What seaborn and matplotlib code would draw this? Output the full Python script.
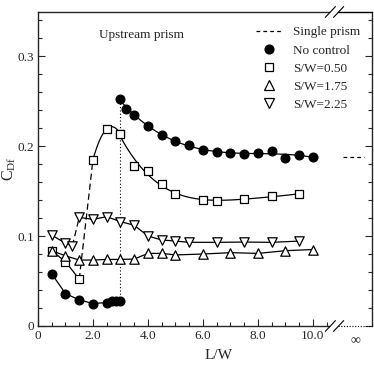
import numpy as np
import pandas as pd
import matplotlib
matplotlib.use("Agg")
import matplotlib.pyplot as plt
import seaborn as sns
from matplotlib.lines import Line2D

# ---------------- data ----------------
# No control (filled circles): two branches
nc_x_a = [0.5, 1.0, 1.5, 2.0, 2.5, 2.7, 2.85, 3.0]
nc_y_a = [0.058, 0.036, 0.029, 0.025, 0.026, 0.0275, 0.028, 0.028]
nc_x_b = [3.0, 3.2, 3.5, 4.0, 4.5, 5.0, 5.5, 6.0, 6.5, 7.0, 7.5, 8.0, 8.5, 9.0, 9.5, 10.0]
nc_y_b = [0.252, 0.2415, 0.235, 0.222, 0.2126, 0.2056, 0.201, 0.196, 0.1937, 0.192,
          0.191, 0.192, 0.195, 0.187, 0.190, 0.188]

# S/W = 0.50 (open squares): three branches
sq_x_a = [0.5, 1.0, 1.5]
sq_y_a = [0.0837, 0.0715, 0.052]
sq_x_b = [2.0, 2.5, 3.0]
sq_y_b = [0.185, 0.219, 0.2133]
sq_x_c = [3.0, 3.5, 4.0, 4.5, 5.0, 6.0, 6.5, 7.5, 8.5, 9.5]
sq_y_c = [0.2133, 0.178, 0.1726, 0.158, 0.147, 0.140, 0.139, 0.141, 0.1444, 0.1467]

# S/W = 1.75 (up triangles)
ut_x = [0.5, 1.0, 1.5, 2.0, 2.5, 3.0, 3.5, 4.0, 4.5, 5.0, 6.0, 7.0, 8.0, 9.0, 10.0]
ut_y = [0.0837, 0.078, 0.0733, 0.0733, 0.074, 0.074, 0.0744, 0.0807, 0.0807, 0.079,
        0.080, 0.0815, 0.0807, 0.0837, 0.085]

# S/W = 2.25 (down triangles): two branches
dt_x_a = [0.5, 1.0, 1.25]
dt_y_a = [0.101, 0.092, 0.089]
dt_x_b = [1.5, 2.0, 2.5, 3.0, 3.5, 4.0, 4.5, 5.0, 5.5, 6.5, 7.5, 8.5, 9.5]
dt_y_b = [0.1207, 0.1185, 0.1215, 0.116, 0.112, 0.100, 0.0956, 0.0944, 0.093, 0.093,
          0.0933, 0.093, 0.0944]

single_prism = 0.188

x_ticks = [0, 2, 4, 6, 8, 10]
x_ticklabels = ["0", "2.0", "4.0", "6.0", "8.0", "10.0"]
y_ticks = [0, 0.1, 0.2, 0.3]
y_ticklabels = ["0", "0.1", "0.2", "0.3"]
legend_labels = ["Single prism", "No control", "S/W=0.50", "S/W=1.75", "S/W=2.25"]

# ---------------- style ----------------
sns.set_style("ticks")
plt.rcParams["font.family"] = ["Liberation Serif", "DejaVu Serif"]
plt.rcParams["mathtext.fontset"] = "custom"
plt.rcParams["mathtext.rm"] = "Liberation Serif"
plt.rcParams["mathtext.it"] = "Liberation Serif:italic"
plt.rcParams["axes.linewidth"] = 1.0

fig = plt.figure(figsize=(3.74, 3.67), dpi=100)
ax = fig.add_axes([38 / 374, 41 / 367, 334 / 374, 314 / 367])

LW = 0.9
K = "black"


def line(x, y, ls="-"):
    sns.lineplot(x=x, y=y, ax=ax, color=K, lw=LW, linestyle=ls, sort=False,
                 estimator=None, zorder=2)


def smooth(x, y, deg):
    c = np.polyfit(x, y, deg)
    xs = np.linspace(min(x), max(x), 120)
    return xs, np.polyval(c, xs)


def pts(x, y, marker, filled=False, s=34):
    sns.scatterplot(x=x, y=y, ax=ax, marker=marker, s=s,
                    facecolor=K if filled else "white", edgecolor=K,
                    linewidth=0.9, zorder=3)


# no control
line(nc_x_a, nc_y_a)
xs, ys = smooth(nc_x_b, nc_y_b, 3)
line(xs, ys)
pts(nc_x_a + nc_x_b, nc_y_a + nc_y_b, "o", filled=True, s=40)
# vertical dotted connector at the jump
ax.plot([nc_x_a[-1], nc_x_b[0]], [nc_y_a[-1], nc_y_b[0]], color=K, lw=0.8,
        linestyle=(0, (1, 2)), zorder=1)

# S/W = 0.50
line(sq_x_a, sq_y_a)
line([sq_x_a[-1], sq_x_b[0]], [sq_y_a[-1], sq_y_b[0]], ls=(0, (5, 3)))
xs, ys = smooth(sq_x_b, sq_y_b, 2)
line(xs, ys)
xs, ys = smooth(sq_x_c, sq_y_c, 4)
line(xs, ys)
pts(sq_x_a + sq_x_b + sq_x_c, sq_y_a + sq_y_b + sq_y_c, "s", s=40)

# S/W = 1.75
line(ut_x, ut_y)
pts(ut_x, ut_y, "^", s=46)

# S/W = 2.25
line(dt_x_a, dt_y_a)
line([dt_x_a[-1], dt_x_b[0]], [dt_y_a[-1], dt_y_b[0]], ls=(0, (5, 3)))
line(dt_x_b, dt_y_b)
pts(dt_x_a + dt_x_b, dt_y_a + dt_y_b, "v", s=46)

# single prism reference at infinity
ax.plot([11.1, 11.85], [single_prism, single_prism], color=K, lw=0.9,
        linestyle=(0, (3, 2.5)))

# ---------------- axes ----------------
ax.set_xlim(0, 12.15)
ax.set_ylim(0, 0.349)
ax.set_xticks(x_ticks)
ax.set_xticklabels(x_ticklabels)
ax.set_xticks(np.arange(0, 10.51, 0.5), minor=True)
ax.set_yticks(y_ticks)
ax.set_yticklabels(y_ticklabels)
ax.set_yticks(np.arange(0, 0.349, 0.02), minor=True)
ax.tick_params(which="both", direction="in", top=False, right=True,
               labelsize=9.5, pad=3, width=0.8)
ax.tick_params(which="major", length=5)
ax.tick_params(which="minor", length=3)
ax.text(11.53, -0.009, "\u221e", ha="center", va="top", fontsize=10)

ax.set_xlabel("L/W", fontsize=11)
ax.xaxis.set_label_coords(0.54, -0.072)
ax.set_ylabel(r"$\mathrm{C_{Df}}$", fontsize=11.5)
ax.yaxis.set_label_coords(-0.06, 0.5)

# broken x axis
brk = 10.6
ax.spines["bottom"].set_bounds(0, brk)
ax.spines["top"].set_bounds(0, brk)
ax.plot([brk + 0.3, 12.15], [0, 0], color=K, lw=0.8, linestyle=(0, (1, 1.5)),
        clip_on=False, zorder=4)
ax.plot([brk + 0.3, 12.15], [0.349, 0.349], color=K, lw=1.0, clip_on=False, zorder=4)
for yb in (0.0, 0.349):
    for dx in (0.0, 0.3):
        ax.plot([brk - 0.15 + dx, brk + 0.22 + dx], [yb - 0.006, yb + 0.006],
                color=K, lw=0.8, clip_on=False, zorder=4)

ax.text(3.75, 0.323, "Upstream prism", ha="center", va="center", fontsize=9.5)

# legend
handles = [
    Line2D([], [], color=K, lw=0.9, linestyle=(0, (3, 2.5))),
    Line2D([], [], color=K, marker="o", linestyle="none", markersize=6.3),
    Line2D([], [], color=K, marker="s", linestyle="none", markersize=6.3,
           markerfacecolor="white", markeredgewidth=0.9),
    Line2D([], [], color=K, marker="^", linestyle="none", markersize=6.8,
           markerfacecolor="white", markeredgewidth=0.9),
    Line2D([], [], color=K, marker="v", linestyle="none", markersize=6.8,
           markerfacecolor="white", markeredgewidth=0.9),
]
ax.legend(handles, legend_labels, loc="upper left", bbox_to_anchor=(0.653, 0.955),
          frameon=False, fontsize=9.5, handlelength=2.0, handletextpad=0.8,
          labelspacing=0.45, borderpad=0, borderaxespad=0)

fig.savefig("out.png", dpi=100)
